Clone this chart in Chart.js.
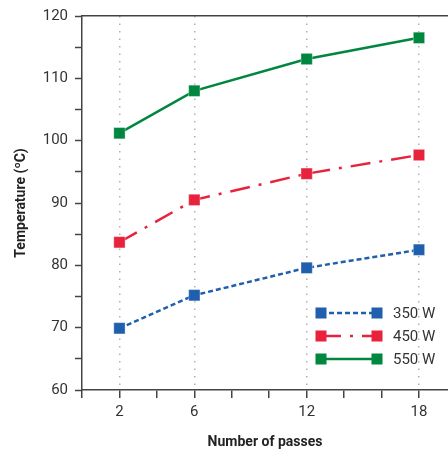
<!DOCTYPE html>
<html>
<head>
<meta charset="utf-8">
<script src="https://cdn.jsdelivr.net/npm/chart.js@4/dist/chart.umd.min.js"></script>
<style>
	html, body { margin: 0; padding: 0; background: #fff; overflow: hidden; }
	#wrap { width: 448px; height: 452px; position: relative; }
	#chart { display: block; }
</style>
</head>
<body>
<div id="wrap"><canvas id="chart"></canvas></div>
<script>
// data
let passes = [2, 6, 12, 18];
let temp350 = [69.9, 75.2, 79.6, 82.5];
let temp450 = [83.7, 90.5, 94.7, 97.7];
let temp550 = [101.2, 108.0, 113.1, 116.5];
let seriesLabels = ['350 W', '450 W', '550 W'];
let xLabelled = [2, 6, 12, 18];

let fontFamily = "Roboto, 'Liberation Sans', sans-serif";
let axisColor = '#444';

function points(values)
{
	return passes.map((p, i) => ({ x: p, y: values[i] }));
}

function series(label, values, color, dash)
{
	return {
		label: label,
		data: points(values),
		borderColor: color,
		backgroundColor: color,
		borderWidth: 2.5,
		borderDash: dash,
		pointStyle: 'rect',
		pointRadius: 8,
		pointHoverRadius: 8,
		pointBorderWidth: 1,
		pointBorderColor: 'rgba(255,255,255,0.35)',
		tension: 0
	};
}

// legend drawn inside the plot, line with a square at both ends
let insideLegend = {
	id: 'insideLegend',
	afterDatasetsDraw: function(chart)
	{
		let ctx = chart.ctx;
		let area = chart.chartArea;
		let x1 = area.right - 127;
		let x2 = area.right - 71;
		ctx.save();
		chart.data.datasets.forEach((ds, i) => {
			let y = area.bottom - 77 + i * 23;
			ctx.strokeStyle = ds.borderColor;
			ctx.lineWidth = 2.5;
			ctx.setLineDash(ds.borderDash || []);
			ctx.beginPath();
			ctx.moveTo(x1, y);
			ctx.lineTo(x2, y);
			ctx.stroke();
			ctx.setLineDash([]);
			ctx.fillStyle = ds.backgroundColor;
			ctx.fillRect(x1 - 5.5, y - 5.5, 11, 11);
			ctx.fillRect(x2 - 5.5, y - 5.5, 11, 11);
			ctx.fillStyle = '#333';
			ctx.font = '15px ' + fontFamily;
			ctx.textBaseline = 'middle';
			ctx.textAlign = 'left';
			ctx.fillText(ds.label, x2 + 16, y + 1);
		});
		ctx.restore();
	}
};

new Chart('chart', {
	type: 'line',
	data: {
		datasets: [
			series(seriesLabels[0], temp350, '#1f5fae', [5, 3]),
			series(seriesLabels[1], temp450, '#e8223c', [20, 9, 3, 9]),
			series(seriesLabels[2], temp550, '#00873f', [])
		]
	},
	options: {
		responsive: true,
		maintainAspectRatio: false,
		animation: false,
		layout: { padding: 0, autoPadding: false },
		plugins: {
			legend: { display: false },
			tooltip: { enabled: false }
		},
		scales: {
			x: {
				type: 'linear',
				min: 0,
				max: 19.55,
				afterBuildTicks: (s) => {
					s.ticks = [0, 2, 4, 6, 8, 10, 12, 14, 16, 18].map(v => ({ value: v }));
				},
				afterFit: (s) => {
					s.height = 62;
					s.paddingRight = 0; // plot runs to the right edge
				},
				// border.dash is the dash of the grid lines in v4
				border: { color: axisColor, width: 1.5, dash: [1.5, 6] },
				grid: {
					color: (c) => xLabelled.includes(c.tick && c.tick.value) ? '#b0b0b0' : 'rgba(0,0,0,0)',
					tickColor: axisColor,
					tickLength: 8,
					lineWidth: 1.5,
					tickWidth: 1.5,
					tickBorderDash: []
				},
				ticks: {
					color: '#333',
					font: { size: 15, family: fontFamily },
					padding: 5,
					maxRotation: 0,
					autoSkip: false,
					callback: (v) => xLabelled.includes(v) ? String(v) : ''
				},
				title: {
					display: true,
					text: 'Number of passes',
					color: '#222',
					font: { size: 14, weight: 'bold', family: fontFamily },
					padding: { top: 0, bottom: 1 }
				}
			},
			top: {
				type: 'linear',
				position: 'top',
				min: 0,
				max: 19.55,
				afterFit: (s) => { s.height = 16; s.paddingRight = 0; },
				border: { color: axisColor, width: 1.5 },
				grid: { display: false, drawTicks: false },
				ticks: { display: false }
			},
			y: {
				min: 60,
				max: 120,
				afterFit: (s) => { s.width = 82; },
				border: { color: axisColor, width: 1.5 },
				grid: {
					drawOnChartArea: false,
					tickColor: axisColor,
					tickLength: 7,
					tickWidth: 1.5
				},
				ticks: {
					stepSize: 5,
					color: '#333',
					font: { size: 15, family: fontFamily },
					padding: 7,
					callback: (v) => v % 10 === 0 ? String(v) : ''
				},
				title: {
					display: true,
					text: 'Temperature (ºC)',
					color: '#222',
					font: { size: 14, weight: 'bold', family: fontFamily },
					padding: { top: 13, bottom: 0 }
				}
			}
		}
	},
	plugins: [insideLegend]
});
</script>
</body>
</html>
